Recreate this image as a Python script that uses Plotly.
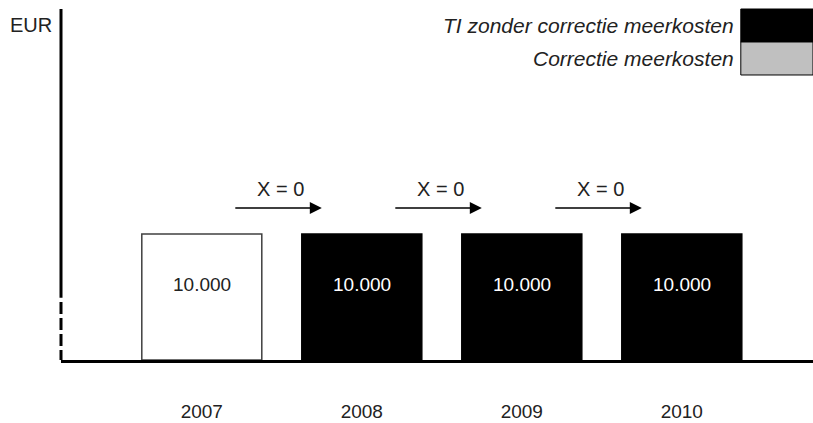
import plotly.graph_objects as go

# data
years = ['2007', '2008', '2009', '2010']
values = [10000, 10000, 10000, 10000]
bar_labels = ['10.000', '10.000', '10.000', '10.000']
bar_fill = ['white', 'black', 'black', 'black']
bar_edge = ['#404040', 'black', 'black', 'black']
label_color = ['#222222', 'white', 'white', 'white']
steps = ['X = 0', 'X = 0', 'X = 0']
legend_names = ['TI zonder correctie meerkosten', 'Correctie meerkosten']
legend_colors = ['black', '#c0c0c0']

FONT = 'Liberation Sans, Arial, sans-serif'
YMAX = 27860

fig = go.Figure()
fig.add_trace(go.Bar(
    x=years,
    y=values,
    marker=dict(color=bar_fill, line=dict(color=bar_edge, width=1.5)),
    hoverinfo='skip',
    showlegend=False,
))

# value labels inside the bars (category index positions)
for i, (v, lab, col) in enumerate(zip(values, bar_labels, label_color)):
    fig.add_annotation(x=i, y=v * 0.6, text=lab, showarrow=False,
                       yanchor='middle',
                       font=dict(size=19, color=col, family=FONT))

# "X = 0" arrows between the years
arrow_y = YMAX * 0.433
for i, s in enumerate(steps):
    fig.add_annotation(x=i + 0.75, y=arrow_y, ax=i + 0.2, ay=arrow_y,
                       xref='x', yref='y', axref='x', ayref='y',
                       text='', showarrow=True, arrowhead=2, arrowsize=1.6,
                       arrowwidth=1.5, arrowcolor='black')
    fig.add_annotation(x=i + 0.49, y=YMAX * 0.486, text=s, showarrow=False,
                       yanchor='middle',
                       font=dict(size=20, color='#222222', family=FONT))

# y axis line: solid, then broken near the bottom
fig.add_shape(type='line', xref='paper', yref='paper', x0=0, x1=0, y0=1, y1=0.177,
              line=dict(color='black', width=3))
fig.add_shape(type='line', xref='paper', yref='paper', x0=0, x1=0, y0=0.165, y1=0,
              line=dict(color='black', width=3, dash='12px,4px'))

fig.add_annotation(xref='paper', yref='paper', x=0, y=0.954, xanchor='left',
                   yanchor='middle', xshift=-53, text='EUR', showarrow=False,
                   font=dict(size=20, color='#222222', family=FONT))

# custom legend box top right
row_y = [(1.0, 0.906), (0.906, 0.812)]
for name, col, (y0, y1) in zip(legend_names, legend_colors, row_y):
    fig.add_shape(type='rect', xref='paper', yref='paper', x0=0.904, x1=1.0,
                  y0=y1, y1=y0, fillcolor=col, line=dict(color='black', width=1))
    fig.add_annotation(xref='paper', yref='paper', x=0.904, y=(y0 + y1) / 2,
                       xanchor='right', yanchor='middle', xshift=-5,
                       text='<i>' + name + '</i>', showarrow=False,
                       font=dict(size=21, color='#222222', family=FONT))

fig.update_layout(
    width=813, height=423,
    margin=dict(l=61, r=0, t=9, b=63, autoexpand=False),
    paper_bgcolor='white', plot_bgcolor='white',
    bargap=0.25,
    font=dict(family=FONT, size=20, color='#222222'),
    xaxis=dict(type='category', range=[-0.88, 3.82], showline=True, linewidth=3,
               linecolor='black', showgrid=False, ticks='', ticklabelstandoff=32,
               automargin=False, tickfont=dict(size=19, family=FONT)),
    yaxis=dict(range=[0, YMAX], visible=False, automargin=False),
)

fig.write_html("out.html", config={'displayModeBar': False},
               post_script="document.body.style.margin='0';")
